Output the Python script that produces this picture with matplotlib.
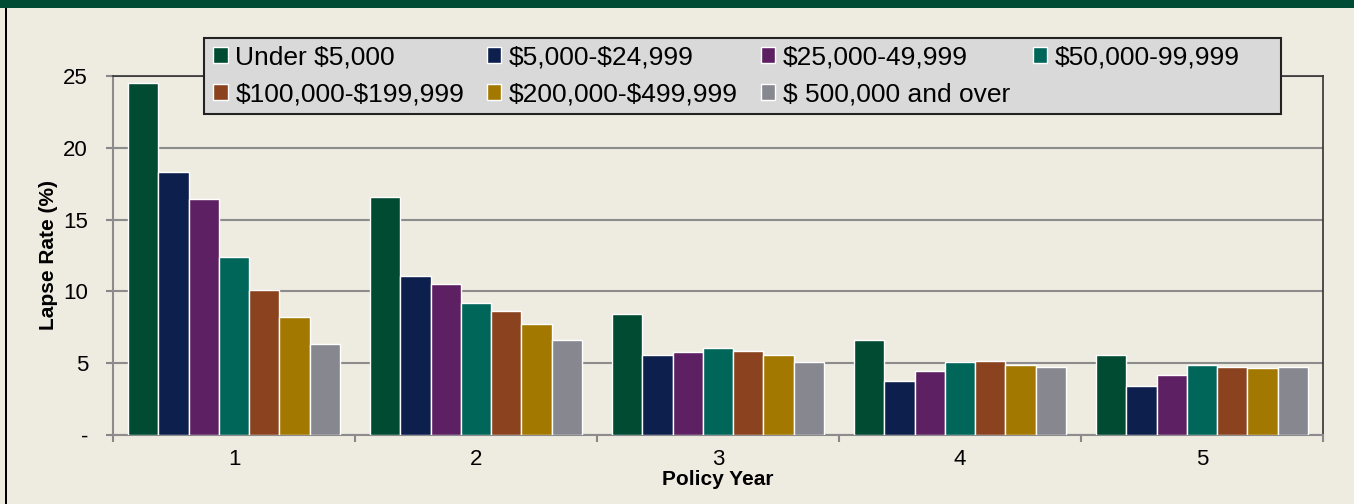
import matplotlib.pyplot as plt
import numpy as np
from matplotlib.patches import Rectangle

plt.rcParams["font.family"] = ["Liberation Sans", "DejaVu Sans"]
plt.rcParams["text.parse_math"] = False

years = ["1", "2", "3", "4", "5"]
bands = [
    "Under $5,000",
    "$5,000-$24,999",
    "$25,000-49,999",
    "$50,000-99,999",
    "$100,000-$199,999",
    "$200,000-$499,999",
    "$ 500,000 and over",
]
colors = ["#004B32", "#0D1F4C", "#5D2163", "#00665A", "#8A431E", "#A37800", "#86878F"]

# lapse rate (%) per band, one value per policy year
under_5k = [24.5, 16.6, 8.45, 6.65, 5.55]
k5_25 = [18.3, 11.1, 5.55, 3.75, 3.4]
k25_50 = [16.4, 10.5, 5.75, 4.45, 4.15]
k50_100 = [12.4, 9.2, 6.05, 5.05, 4.85]
k100_200 = [10.1, 8.65, 5.85, 5.15, 4.75]
k200_500 = [8.2, 7.7, 5.55, 4.85, 4.65]
k500_plus = [6.35, 6.6, 5.05, 4.75, 4.75]
series = [under_5k, k5_25, k25_50, k50_100, k100_200, k200_500, k500_plus]

bg = "#EEECE1"
W, H = 1354, 504
fig = plt.figure(figsize=(W / 100, H / 100), dpi=100, facecolor=bg)
ax = fig.add_axes([113 / W, 1 - 435 / H, (1323 - 113) / W, (435 - 76) / H])
ax.set_facecolor(bg)

# frame decorations: top band and left border
fig.patches.append(Rectangle((0, 1 - 8 / H), 1, 8 / H, transform=fig.transFigure,
                             facecolor="#004B33", edgecolor="none", zorder=0))
fig.patches.append(Rectangle((4.5 / W, 0), 2.5 / W, 1 - 8 / H, transform=fig.transFigure,
                             facecolor="black", edgecolor="none", zorder=0))

x = np.arange(1, len(years) + 1)
width = 0.125
bars = []
for i, (vals, name, col) in enumerate(zip(series, bands, colors)):
    offs = (i - 3) * width
    b = ax.bar(x + offs, vals, width=width, color=col, edgecolor="white", linewidth=1.0,
               label=name, zorder=3)
    bars.append(b)

ax.set_xlim(0.5, 5.5)
ax.set_ylim(0, 25)
ax.set_yticks([0, 5, 10, 15, 20, 25])
ax.set_yticklabels(["-", "5", "10", "15", "20", "25"], fontsize=16)
ax.set_xticks(x)
ax.set_xticklabels(years, fontsize=16)
ax.set_xticks(np.arange(0.5, 6.0, 1.0), minor=True)
ax.tick_params(axis="x", which="major", length=0, pad=10)
ax.tick_params(axis="x", which="minor", length=5, width=1.5, color="#888888", direction="out")
ax.tick_params(axis="y", length=5, width=1.5, color="#888888", direction="out", pad=13)

ax.grid(axis="y", color="#8C8C8C", linewidth=1.5, zorder=0)
ax.set_axisbelow(True)
for side in ("left", "bottom"):
    ax.spines[side].set_color("#8C8C8C")
    ax.spines[side].set_linewidth(1.5)
for side in ("top", "right"):
    ax.spines[side].set_color("#333333")
    ax.spines[side].set_linewidth(1.2)

ax.set_ylabel("Lapse Rate (%)", fontsize=15, fontweight="bold", labelpad=4)
ax.set_xlabel("Policy Year", fontsize=15, fontweight="bold", labelpad=0)

# legend box drawn separately, it is wider than the entries need
fig.patches.append(Rectangle((204 / W, 1 - 114 / H), (1281 - 204) / W, (114 - 38) / H,
                             transform=fig.transFigure, facecolor="#D9D9D9",
                             edgecolor="#222222", linewidth=1.5, zorder=4))

# legend is filled column by column, so interleave to get the row order of the original
order = [0, 4, 1, 5, 2, 6, 3]
leg = fig.legend([bars[i] for i in order], [bands[i] for i in order],
                 loc="center left", bbox_to_anchor=(213 / W, 1 - 76 / H), ncol=4,
                 fontsize=19, frameon=False, handlelength=0.55,
                 handleheight=0.55, handletextpad=0.3, columnspacing=0.85,
                 borderpad=0.0, labelspacing=0.5, borderaxespad=0)
leg.set_zorder(5)
for h in leg.legend_handles:
    h.set_edgecolor("white")

fig.savefig("out.png", dpi=100, facecolor=bg)
